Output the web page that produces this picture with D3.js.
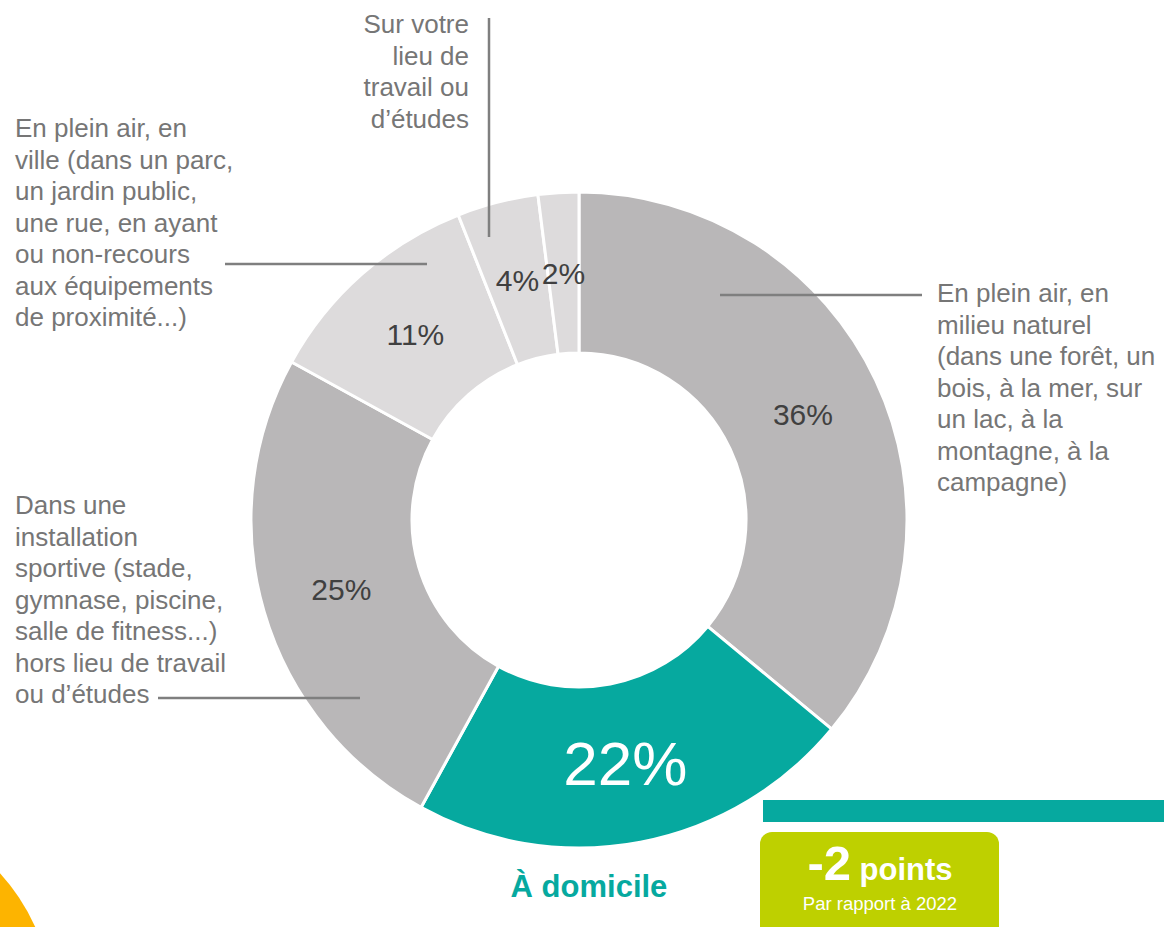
<!DOCTYPE html>
<html>
<head>
<meta charset="utf-8">
<script src="https://cdn.jsdelivr.net/npm/d3@7"></script>
<style>
  body { margin: 0; background: #fff; }
  svg { display: block; font-family: "Liberation Sans", Arial, sans-serif; }
</style>
</head>
<body>
<div id="chart"></div>
<script>
// Chart data (clockwise from 12 o'clock)
let categories = ["naturel", "domicile", "installation", "ville", "travail", "autre"];
let values = [36, 22, 25, 11, 4, 2];
let sliceColors = ["#b9b7b8", "#06a99f", "#b9b7b8", "#dddbdc", "#dddbdc", "#dddbdc"];

// Category labels (text lines)
let labelNaturel = ["En plein air, en", "milieu naturel", "(dans une forêt, un", "bois, à la mer, sur", "un lac, à la", "montagne, à la", "campagne)"];
let labelTravail = ["Sur votre", "lieu de", "travail ou", "d’études"];
let labelVille = ["En plein air, en", "ville (dans un parc,", "un jardin public,", "une rue, en ayant", "ou non-recours", "aux équipements", "de proximité...)"];
let labelInstall = ["Dans une", "installation", "sportive (stade,", "gymnase, piscine,", "salle de fitness...)", "hors lieu de travail", "ou d’études"];
let highlightLabel = "À domicile";
let changeValue = "-2";
let changeUnit = " points";
let changeNote = "Par rapport à 2022";

let width = 1164, height = 927;
let cx = 579, cy = 520;
let outerR = 328, innerR = 167;
let lineH = 31.5;

let svg = d3.select("#chart").append("svg")
  .attr("width", width)
  .attr("height", height);

// decorative orange corner
svg.append("circle")
  .attr("cx", -150).attr("cy", 1010).attr("r", 203)
  .attr("fill", "#fdb400");

// donut
let pie = d3.pie().sort(null).value(d => d);
let arc = d3.arc().innerRadius(innerR).outerRadius(outerR);
let arcs = pie(values);

let g = svg.append("g").attr("transform", "translate(" + cx + "," + cy + ")");

g.selectAll("path.slice")
  .data(arcs)
  .enter()
  .append("path")
  .attr("class", "slice")
  .attr("d", arc)
  .attr("fill", (d, i) => sliceColors[i])
  .attr("stroke", "#fff")
  .attr("stroke-width", 3)
  .attr("stroke-linejoin", "round");

// percentage labels on the arc centroids
g.selectAll("text.pct")
  .data(arcs)
  .enter()
  .append("text")
  .attr("class", "pct")
  .attr("x", d => arc.centroid(d)[0])
  .attr("y", d => arc.centroid(d)[1])
  .attr("dy", (d, i) => i == 1 ? "0.36em" : "0.36em")
  .attr("text-anchor", "middle")
  .attr("font-size", (d, i) => i == 1 ? 62 : 30)
  .attr("fill", (d, i) => i == 1 ? "#fff" : "#404040")
  .text(d => d.data + "%");

// leader lines
let leaders = [
  [[720, 295], [922, 295]],
  [[489, 18], [489, 237]],
  [[225, 264], [427, 264]],
  [[158, 698], [360, 698]]
];
svg.selectAll("line.leader")
  .data(leaders)
  .enter()
  .append("line")
  .attr("class", "leader")
  .attr("x1", d => d[0][0]).attr("y1", d => d[0][1])
  .attr("x2", d => d[1][0]).attr("y2", d => d[1][1])
  .attr("stroke", "#7f7f7f")
  .attr("stroke-width", 2.5);

// multi-line labels
function addLabel(lines, x, y, anchor) {
  let t = svg.append("text")
    .attr("x", x).attr("y", y)
    .attr("text-anchor", anchor)
    .attr("font-size", 26)
    .attr("fill", "#767676");
  t.selectAll("tspan")
    .data(lines)
    .enter()
    .append("tspan")
    .attr("x", x)
    .attr("y", (d, i) => y + i * lineH)
    .text(d => d);
}

addLabel(labelNaturel, 937, 302, "start");
addLabel(labelTravail, 469, 33, "end");
addLabel(labelVille, 15, 137, "start");
addLabel(labelInstall, 15, 514, "start");

// highlighted category name
svg.append("text")
  .attr("x", 589).attr("y", 897)
  .attr("text-anchor", "middle")
  .attr("font-size", 31)
  .attr("font-weight", "bold")
  .attr("fill", "#06a99f")
  .text(highlightLabel);

// teal bar and change box
svg.append("rect")
  .attr("x", 763).attr("y", 800)
  .attr("width", width - 763).attr("height", 22)
  .attr("fill", "#06a99f");

svg.append("rect")
  .attr("x", 760).attr("y", 832)
  .attr("width", 239).attr("height", 120)
  .attr("rx", 12)
  .attr("fill", "#bed000");

let changeText = svg.append("text")
  .attr("x", 880).attr("y", 880)
  .attr("text-anchor", "middle")
  .attr("fill", "#fff")
  .attr("font-weight", "bold");
changeText.append("tspan").attr("font-size", 49).text(changeValue);
changeText.append("tspan").attr("font-size", 31).text(changeUnit);

svg.append("text")
  .attr("x", 880).attr("y", 910)
  .attr("text-anchor", "middle")
  .attr("font-size", 18.5)
  .attr("fill", "#fff")
  .text(changeNote);
</script>
</body>
</html>
